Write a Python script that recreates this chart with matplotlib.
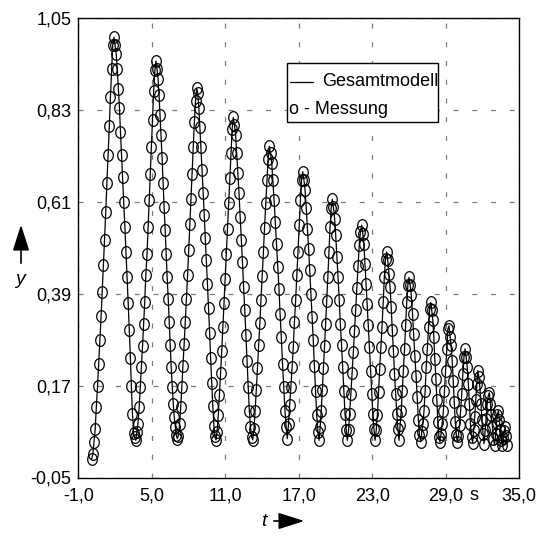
import matplotlib
matplotlib.use('Agg')
import matplotlib.pyplot as plt
import numpy as np
from matplotlib.path import Path
from matplotlib.patches import Rectangle, FancyArrowPatch
from matplotlib.lines import Line2D

plt.rcParams['font.family'] = ['Liberation Sans', 'DejaVu Sans']

# ---------------- data ----------------
x_ticks = [-1.0, 5.0, 11.0, 17.0, 23.0, 29.0, 35.0]
x_tick_labels = ['-1,0', '5,0', '11,0', '17,0', '23,0', '29,0', '35,0']
y_ticks = [-0.05, 0.17, 0.39, 0.61, 0.83, 1.05]
y_tick_labels = ['-0,05', '0,17', '0,39', '0,61', '0,83', '1,05']

t_meas = [
    0.10, 0.20, 0.29, 0.39, 0.48, 0.58, 0.67, 0.77, 0.87, 0.96, 1.06, 1.15, 1.25, 1.34, 1.44, 1.54, 1.63, 1.73, 1.82, 1.92,
    2.01, 2.10, 2.19, 2.28, 2.37, 2.45, 2.54, 2.63, 2.72, 2.81, 2.90, 2.99, 3.08, 3.17, 3.26, 3.34, 3.43, 3.52, 3.61, 3.70,
    3.79, 3.88, 3.98, 4.07, 4.16, 4.25, 4.34, 4.43, 4.52, 4.62, 4.71, 4.80, 4.89, 4.98, 5.07, 5.16, 5.26, 5.35,
    5.43, 5.52, 5.60, 5.68, 5.77, 5.85, 5.93, 6.01, 6.10, 6.18, 6.26, 6.35, 6.43, 6.51, 6.59, 6.68, 6.76, 6.84, 6.93, 7.01, 7.09,
    7.18, 7.28, 7.37, 7.46, 7.55, 7.65, 7.74, 7.83, 7.93, 8.02, 8.11, 8.21, 8.30, 8.39, 8.48, 8.58, 8.67,
    8.76, 8.85, 8.93, 9.02, 9.11, 9.20, 9.29, 9.37, 9.46, 9.55, 9.64, 9.73, 9.81, 9.90, 9.99, 10.08, 10.16, 10.25,
    10.34, 10.44, 10.53, 10.63, 10.72, 10.81, 10.91, 11.00, 11.10, 11.19, 11.28, 11.38, 11.47, 11.57, 11.66,
    11.75, 11.85, 11.94, 12.04, 12.13, 12.22, 12.32, 12.41, 12.50, 12.60, 12.69, 12.78, 12.88, 12.97, 13.06, 13.16, 13.25,
    13.35, 13.44, 13.54, 13.63, 13.73, 13.83, 13.92, 14.02, 14.12, 14.21, 14.31, 14.41, 14.50, 14.60,
    14.70, 14.80, 14.89, 14.99, 15.09, 15.19, 15.29, 15.39, 15.48, 15.58, 15.68, 15.78, 15.88, 15.97, 16.07,
    16.17, 16.26, 16.36, 16.46, 16.56, 16.65, 16.75, 16.85, 16.94, 17.04, 17.14, 17.23, 17.33,
    17.43, 17.52, 17.62, 17.71, 17.81, 17.90, 18.00, 18.09, 18.19, 18.28, 18.38, 18.47, 18.57, 18.66,
    18.75, 18.84, 18.93, 19.02, 19.11, 19.20, 19.29, 19.38, 19.47, 19.56, 19.65, 19.74,
    19.83, 19.93, 20.02, 20.12, 20.21, 20.31, 20.40, 20.50, 20.59, 20.69, 20.78, 20.88, 20.97,
    21.07, 21.16, 21.26, 21.36, 21.46, 21.55, 21.65, 21.75, 21.85, 21.94, 22.04, 22.14,
    22.23, 22.32, 22.41, 22.50, 22.59, 22.68, 22.77, 22.87, 22.96, 23.05, 23.14, 23.23,
    23.33, 23.42, 23.52, 23.61, 23.71, 23.80, 23.90, 23.99, 24.09, 24.18,
    24.27, 24.36, 24.46, 24.55, 24.64, 24.73, 24.82, 24.91, 25.01, 25.10, 25.19,
    25.28, 25.37, 25.46, 25.55, 25.64, 25.73, 25.82, 25.91, 26.00,
    26.10, 26.19, 26.29, 26.38, 26.48, 26.58, 26.67, 26.77, 26.86, 26.96,
    27.05, 27.14, 27.23, 27.32, 27.41, 27.50, 27.60, 27.69, 27.78,
    27.86, 27.95, 28.03, 28.11, 28.20, 28.28, 28.36, 28.45, 28.53,
    28.62, 28.71, 28.81, 28.90, 28.99, 29.08, 29.18, 29.27,
    29.36, 29.44, 29.53, 29.61, 29.70, 29.78, 29.87, 29.95,
    30.04, 30.13, 30.22, 30.31, 30.40, 30.49, 30.58,
    30.67, 30.76, 30.85, 30.93, 31.02, 31.11, 31.20,
    31.28, 31.37, 31.45, 31.54, 31.62,
    31.71, 31.79, 31.88, 31.96, 32.05, 32.13,
    32.22, 32.30, 32.39, 32.47, 32.56,
    32.65, 32.73, 32.82, 32.90, 32.99,
    33.07, 33.15, 33.22, 33.30,
    33.38, 33.46, 33.54, 33.62,
    33.70, 33.78, 33.85,
    33.93, 34.01,
]

y_meas = [
    -0.005, 0.007, 0.035, 0.067, 0.119, 0.169, 0.221, 0.278, 0.336, 0.394, 0.458, 0.518, 0.586, 0.654, 0.722, 0.791, 0.860, 0.929, 0.985, 1.004,
    0.985, 0.965, 0.927, 0.881, 0.834, 0.778, 0.722, 0.670, 0.610, 0.550, 0.490, 0.430, 0.368, 0.302, 0.237, 0.168, 0.103, 0.056, 0.047, 0.039,
    0.060, 0.079, 0.119, 0.167, 0.214, 0.264, 0.318, 0.370, 0.434, 0.486, 0.550, 0.614, 0.676, 0.742, 0.807, 0.876, 0.925, 0.947,
    0.929, 0.905, 0.865, 0.818, 0.770, 0.714, 0.654, 0.598, 0.542, 0.486, 0.430, 0.378, 0.322, 0.266, 0.214, 0.166, 0.127, 0.095, 0.071, 0.051, 0.043,
    0.050, 0.079, 0.119, 0.166, 0.218, 0.270, 0.322, 0.378, 0.434, 0.494, 0.556, 0.616, 0.676, 0.740, 0.800, 0.852, 0.882,
    0.870, 0.835, 0.790, 0.740, 0.686, 0.632, 0.578, 0.524, 0.470, 0.414, 0.356, 0.296, 0.236, 0.176, 0.120, 0.074, 0.050, 0.040,
    0.060, 0.100, 0.148, 0.200, 0.254, 0.310, 0.368, 0.426, 0.486, 0.546, 0.606, 0.666, 0.726, 0.785, 0.812,
    0.794, 0.770, 0.726, 0.678, 0.630, 0.574, 0.518, 0.466, 0.406, 0.350, 0.290, 0.230, 0.166, 0.110, 0.071, 0.047, 0.040,
    0.065, 0.110, 0.160, 0.212, 0.266, 0.320, 0.376, 0.432, 0.490, 0.548, 0.606, 0.662, 0.712, 0.743,
    0.726, 0.702, 0.662, 0.614, 0.562, 0.510, 0.454, 0.402, 0.342, 0.286, 0.222, 0.166, 0.110, 0.071, 0.043,
    0.079, 0.123, 0.166, 0.214, 0.262, 0.322, 0.374, 0.434, 0.490, 0.554, 0.614, 0.662, 0.682,
    0.662, 0.638, 0.594, 0.546, 0.498, 0.446, 0.390, 0.334, 0.278, 0.218, 0.158, 0.099, 0.059, 0.039,
    0.070, 0.110, 0.160, 0.212, 0.264, 0.318, 0.372, 0.430, 0.490, 0.550, 0.594, 0.616,
    0.598, 0.570, 0.530, 0.478, 0.430, 0.374, 0.318, 0.266, 0.214, 0.158, 0.103, 0.063, 0.039,
    0.063, 0.103, 0.151, 0.200, 0.250, 0.300, 0.352, 0.404, 0.456, 0.506, 0.538, 0.554,
    0.534, 0.510, 0.462, 0.414, 0.366, 0.314, 0.262, 0.206, 0.151, 0.103, 0.067, 0.039,
    0.063, 0.099, 0.154, 0.210, 0.262, 0.310, 0.370, 0.430, 0.474, 0.490,
    0.470, 0.438, 0.406, 0.358, 0.302, 0.254, 0.198, 0.151, 0.103, 0.067, 0.039,
    0.075, 0.110, 0.158, 0.206, 0.258, 0.314, 0.370, 0.410, 0.429,
    0.410, 0.386, 0.342, 0.294, 0.242, 0.194, 0.142, 0.087, 0.051, 0.035,
    0.060, 0.079, 0.110, 0.158, 0.214, 0.258, 0.310, 0.354, 0.369,
    0.350, 0.326, 0.286, 0.234, 0.186, 0.135, 0.083, 0.047, 0.035,
    0.055, 0.079, 0.110, 0.158, 0.206, 0.258, 0.306, 0.313,
    0.286, 0.266, 0.230, 0.182, 0.131, 0.083, 0.051, 0.035,
    0.050, 0.075, 0.110, 0.151, 0.198, 0.238, 0.258,
    0.238, 0.214, 0.174, 0.127, 0.079, 0.047, 0.033,
    0.063, 0.095, 0.135, 0.174, 0.206,
    0.190, 0.166, 0.127, 0.087, 0.055, 0.031,
    0.063, 0.091, 0.127, 0.145, 0.153,
    0.127, 0.099, 0.071, 0.043, 0.027,
    0.055, 0.080, 0.100, 0.110,
    0.087, 0.063, 0.039, 0.028,
    0.045, 0.062, 0.071,
    0.050, 0.028,
]

legend_line_label = 'Gesamtmodell'
legend_marker_label = 'o - Messung'
unit_label = 's'
unit_label_t = 31.3

# ---------------- figure ----------------
W, H = 547, 540
FS = 13
XPAD = 7
fig = plt.figure(figsize=(W / 100, H / 100), dpi=100)
ax = fig.add_axes([78.2 / W, 1 - 477.5 / H, (519.2 - 78.2) / W, (477.5 - 18.0) / H])

ax.set_xlim(x_ticks[0], x_ticks[-1])
ax.set_ylim(y_ticks[0], y_ticks[-1])
ax.set_xticks(x_ticks)
ax.set_xticklabels(x_tick_labels, fontsize=FS)
ax.set_yticks(y_ticks)
ax.set_yticklabels(y_tick_labels, fontsize=FS)
ax.tick_params(axis='x', length=0, pad=XPAD)
ax.tick_params(axis='y', length=0, pad=5)

ax.set_axisbelow(True)
ax.grid(True, color='#7a7a7a', linewidth=0.9, linestyle=(0, (4.0, 11.0)))
for sp in ax.spines.values():
    sp.set_linewidth(1.0)
    sp.set_color('black')

# model line
ax.plot(t_meas, y_meas, color='black', linewidth=0.9, zorder=3)

# measurement markers (slightly tall ellipses)
th = np.linspace(0, 2 * np.pi, 64)
ell = Path(np.column_stack([0.82 * np.cos(th), np.sin(th)]), closed=True)
ax.plot(t_meas, y_meas, linestyle='none', marker=ell, markersize=8.4,
        markerfacecolor='none', markeredgecolor='black', markeredgewidth=0.9, zorder=4)

# unit "s" on the x axis, aligned with the tick labels
ax.annotate(unit_label, xy=(unit_label_t, 0), xycoords=('data', 'axes fraction'),
            xytext=(0, -XPAD), textcoords='offset points',
            ha='center', va='top', fontsize=FS, annotation_clip=False)


def fx(px):
    return px / W


def fy(py):
    return 1 - py / H


# legend box (custom)
box = Rectangle((fx(287.3), fy(122.0)), fx(438.0) - fx(287.3), fy(63.3) - fy(122.0),
                transform=fig.transFigure, facecolor='white', edgecolor='black',
                linewidth=1.0, zorder=10)
fig.add_artist(box)
fig.add_artist(Line2D([fx(290), fx(313)], [fy(82), fy(82)], color='black', linewidth=0.9,
                      transform=fig.transFigure, zorder=11))
fig.text(fx(322), fy(82), legend_line_label, fontsize=FS, va='center', ha='left', zorder=11)
fig.text(fx(289), fy(110), legend_marker_label, fontsize=FS, va='center', ha='left', zorder=11)

# axis labels with arrows
fig.text(fx(264), fy(521), 't', fontsize=14, style='italic', va='center', ha='center')
fig.add_artist(FancyArrowPatch((fx(271), fy(521)), (fx(307), fy(521)), transform=fig.transFigure,
                               arrowstyle='-|>,head_length=1.0,head_width=0.32',
                               mutation_scale=16, color='black', linewidth=1.2))
fig.text(fx(20), fy(279), 'y', fontsize=14, style='italic', va='center', ha='center')
fig.add_artist(FancyArrowPatch((fx(21), fy(266)), (fx(21), fy(222)), transform=fig.transFigure,
                               arrowstyle='-|>,head_length=1.0,head_width=0.32',
                               mutation_scale=16, color='black', linewidth=1.2))

fig.savefig('out.png', dpi=100)
